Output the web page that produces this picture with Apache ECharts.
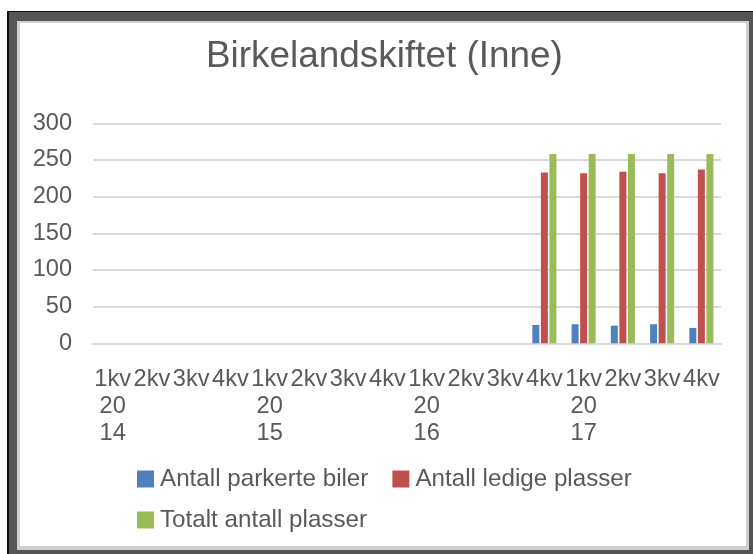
<!DOCTYPE html>
<html>
<head>
<meta charset="utf-8">
<script src="https://cdn.jsdelivr.net/npm/echarts@6/dist/echarts.min.js"></script>
<style>
html,body{margin:0;padding:0;width:753px;height:554px;overflow:hidden;background:#fff;}
.b{position:absolute;}
#chart{position:absolute;left:0;top:0;width:753px;height:554px;}
</style>
</head>
<body>
<div class="b" style="left:7px;top:11px;width:746px;height:543px;background:#111;"></div>
<div class="b" style="left:9px;top:12px;width:744px;height:542px;background:#555;"></div>
<div class="b" style="left:17px;top:21px;width:732px;height:529px;background:#cfcfcf;"></div>
<div class="b" style="left:20px;top:23px;width:726px;height:523px;background:#fff;"></div>
<div id="chart"></div>
<script>
// Category (tick) labels: quarter + year
var categories = [
  '1kv\n20\n14','2kv','3kv','4kv',
  '1kv\n20\n15','2kv','3kv','4kv',
  '1kv\n20\n16','2kv','3kv','4kv',
  '1kv\n20\n17','2kv','3kv','4kv'
];
var seriesNames = ['Antall parkerte biler','Antall ledige plasser','Totalt antall plasser'];
var parkerte = [null,null,null,null,null,null,null,null,null,null,null,25,26,24,26,21];
var ledige   = [null,null,null,null,null,null,null,null,null,null,null,233,232,234,232,237];
var totalt   = [null,null,null,null,null,null,null,null,null,null,null,258,258,258,258,258];
var yTicks = [0,50,100,150,200,250,300];

var txt = '#595959';
var font = 'Liberation Sans, Arial, sans-serif';
var chart = echarts.init(document.getElementById('chart'), null, {renderer:'canvas'});
chart.setOption({
  animation:false,
  backgroundColor:'transparent',
  title:{
    text:'Birkelandskiftet (Inne)',
    left:206, top:38,
    padding:0,
    textStyle:{color:txt,fontSize:36.9,fontWeight:'normal',fontFamily:font}
  },
  legend:[
    {data:[seriesNames[0],seriesNames[1]], left:137, top:467, padding:0,
     itemWidth:17,itemHeight:17,itemGap:24,icon:'rect',
     textStyle:{color:txt,fontSize:24.2,fontFamily:font,padding:[0,0,0,1]}},
    {data:[seriesNames[2]], left:137, top:508, padding:0,
     itemWidth:17,itemHeight:17,itemGap:24,icon:'rect',
     textStyle:{color:txt,fontSize:24.2,fontFamily:font,padding:[0,0,0,1]}}
  ],
  grid:{left:93,right:32,top:123.3,bottom:210.7,containLabel:false},
  xAxis:{
    type:'category',
    data:categories,
    axisLine:{lineStyle:{color:'#d9d9d9',width:2}},
    axisTick:{show:false},
    axisLabel:{interval:0,color:txt,fontSize:23.6,fontFamily:font,margin:23,lineHeight:27,align:'center'}
  },
  yAxis:{
    type:'value',min:yTicks[0],max:yTicks[yTicks.length-1],interval:yTicks[1]-yTicks[0],
    axisLine:{show:false},axisTick:{show:false},
    splitLine:{lineStyle:{color:'#d9d9d9',width:2}},
    axisLabel:{color:txt,fontSize:23.6,fontFamily:font,margin:21,padding:[5,0,0,0]}
  },
  series:[
    {name:seriesNames[0],type:'bar',data:parkerte,barWidth:7,barGap:'22%',itemStyle:{color:'#4F81BD'}},
    {name:seriesNames[1],type:'bar',data:ledige,barWidth:7,barGap:'22%',itemStyle:{color:'#C0504D'}},
    {name:seriesNames[2],type:'bar',data:totalt,barWidth:7,barGap:'22%',itemStyle:{color:'#9BBB59'}}
  ]
});
</script>
</body>
</html>
